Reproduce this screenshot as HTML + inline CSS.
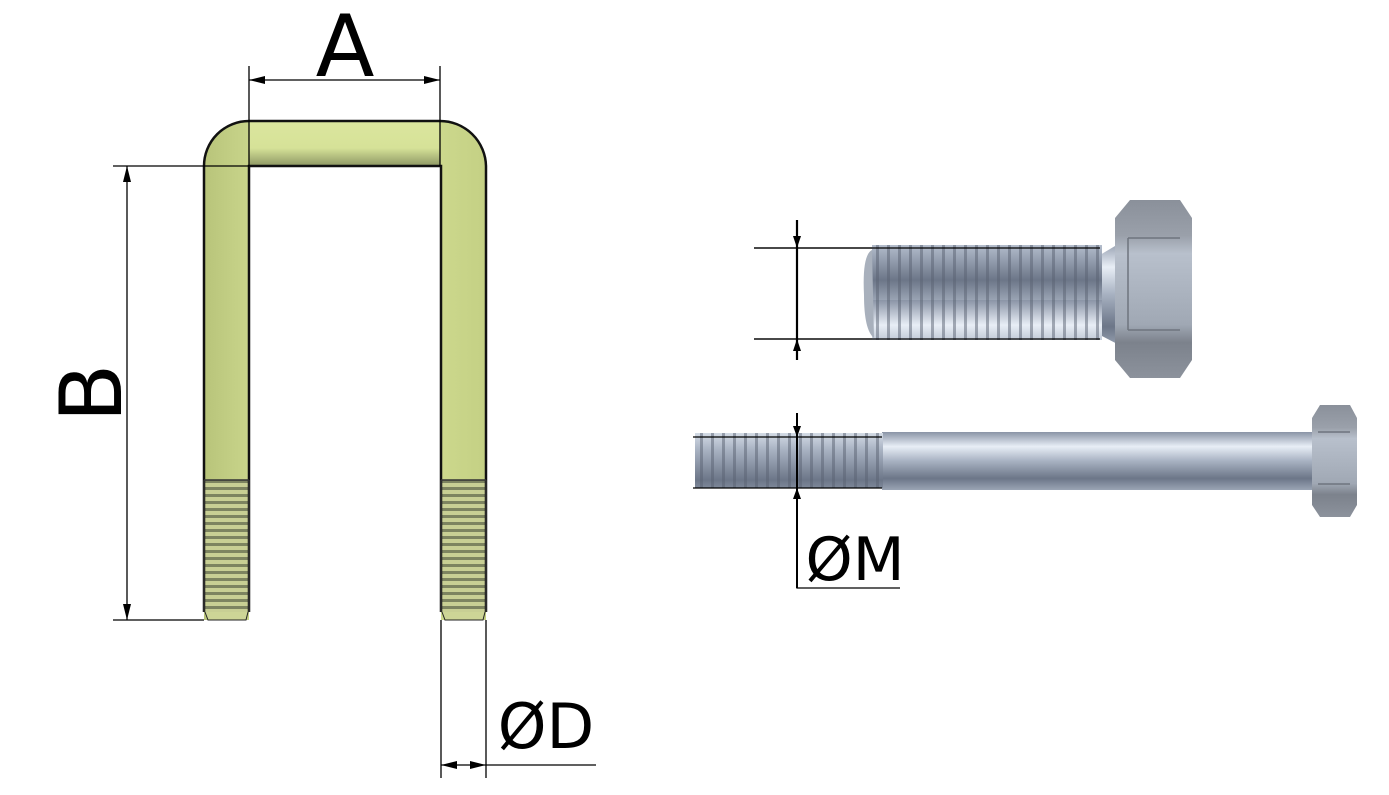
<!DOCTYPE html>
<html><head><style>html,body{margin:0;padding:0;background:#fff;}svg{display:block}</style></head>
<body>
<svg width="1389" height="795" viewBox="0 0 1389 795" xmlns="http://www.w3.org/2000/svg">
<defs>
<linearGradient id="ubv" x1="0" x2="1" y1="0" y2="0">
<stop offset="0" stop-color="#b8c47a"/><stop offset="0.4" stop-color="#e2eea4"/><stop offset="1" stop-color="#c4d084"/></linearGradient>
<linearGradient id="ubh" x1="0" x2="0" y1="0" y2="1">
<stop offset="0" stop-color="#dbe69e"/><stop offset="0.6" stop-color="#d6e298"/><stop offset="1" stop-color="#8e9864"/></linearGradient>
<pattern id="thrU" width="10" height="7" patternUnits="userSpaceOnUse">
<rect width="10" height="7" fill="#c8cf94"/><rect y="4" width="10" height="3" fill="#7d8460"/></pattern>
<linearGradient id="steel" x1="0" x2="0" y1="0" y2="1">
<stop offset="0" stop-color="#8a94a6"/><stop offset="0.25" stop-color="#e8eef6"/><stop offset="0.5" stop-color="#a8b2c2"/><stop offset="0.8" stop-color="#6c7688"/><stop offset="1" stop-color="#9aa4b4"/></linearGradient>
<pattern id="thrB" width="11" height="100" patternUnits="userSpaceOnUse">
<rect width="11" height="100" fill="url(#steel)"/><rect x="7" width="3" height="100" fill="#5a6272" opacity="0.5"/></pattern>
<linearGradient id="head" x1="0" x2="0" y1="0" y2="1">
<stop offset="0" stop-color="#8a909a"/><stop offset="0.2" stop-color="#9aa0aa"/><stop offset="0.3" stop-color="#b8c0cc"/><stop offset="0.7" stop-color="#a0a8b4"/><stop offset="0.8" stop-color="#7c828c"/><stop offset="1" stop-color="#8c929c"/></linearGradient>
</defs>

<!-- U-bolt -->
<path d="M204,620 L204,166 A45,45 0 0 1 249,121 L440,121 A46,46 0 0 1 486,166 L486,620 L441,620 L441,166 L249,166 L249,620 Z" fill="url(#ubv)"/>
<rect x="249" y="121" width="191" height="45" fill="url(#ubh)"/>
<rect x="205" y="480" width="43" height="132" fill="url(#thrU)"/>
<rect x="442" y="480" width="43" height="132" fill="url(#thrU)"/>
<path d="M205,612 L208,620 L246,620 L248,612" fill="#cdd596" stroke="#222" stroke-width="1"/>
<path d="M442,612 L445,620 L483,620 L485,612" fill="#cdd596" stroke="#222" stroke-width="1"/>
<path d="M204,612 L204,166 A45,45 0 0 1 249,121 L440,121 A46,46 0 0 1 486,166 L486,612 M441,612 L441,166 L249,166 L249,612" fill="none" stroke="#111" stroke-width="2.5"/>
<path d="M204,480 H249 M441,480 H486 M204,480 V612 M249,480 V612 M441,480 V612 M486,480 V612" stroke="#333" stroke-width="1.5" fill="none"/>

<!-- Dimension A -->
<g stroke="#000" stroke-width="1.3" fill="none">
<path d="M249,66 V166 M440,66 V166 M249,80 H440"/>
<path d="M113,166 H249 M113,620 H204 M127,166 V620"/>
<path d="M441,620 V778 M486,620 V778 M441,765 H596"/>
<path d="M754,248 H880 M754,339 H880"/>
<path d="M797,413 V588 H900"/>
</g>
<g fill="#000">
<path d="M249,80 L265,76 L265,84 Z M440,80 L424,76 L424,84 Z"/>
<path d="M127,166 L123,182 L131,182 Z M127,620 L123,604 L131,604 Z"/>
<path d="M441,765 L457,761 L457,769 Z M486,765 L470,761 L470,769 Z"/>
</g>
<text x="345" y="76" font-family="DejaVu Sans, sans-serif" font-size="86" text-anchor="middle">A</text>
<text transform="translate(121,393) rotate(-90)" font-family="DejaVu Sans, sans-serif" font-size="86" text-anchor="middle">B</text>
<text x="546" y="748" font-family="DejaVu Sans, sans-serif" font-size="62" text-anchor="middle">ØD</text>
<text x="855" y="580" font-family="DejaVu Sans, sans-serif" font-size="60" text-anchor="middle">ØM</text>

<!-- Bolt 1 -->
<path d="M1100,255 L1125,240 L1125,348 L1100,335 Z" fill="url(#steel)"/>
<rect x="872" y="245" width="230" height="95" fill="url(#thrB)"/>
<path d="M872,250 Q862,255 864,295 Q864,330 874,338 Z" fill="#a8b0bc"/>
<path d="M1115,218 L1130,200 L1180,200 L1192,218 L1192,360 L1180,378 L1130,378 L1115,360 Z" fill="url(#head)"/>
<path d="M1128,238 H1180 M1128,330 H1180 M1128,238 V330" stroke="#6e747e" stroke-width="1.5" fill="none"/>
<g stroke="#000" stroke-width="2.2"><path d="M797,220 V360"/></g>
<path d="M754,248 H1100 M754,339 H1100" stroke="#000" stroke-width="1.2"/>
<path d="M797,248 L793,236 L801,236 Z M797,339 L793,351 L801,351 Z" fill="#000"/>

<!-- Bolt 2 -->
<rect x="882" y="432" width="432" height="58" fill="url(#steel)"/>
<rect x="695" y="433" width="188" height="55" fill="url(#thrB)"/>
<path d="M1312,418 L1320,405 L1350,405 L1357,418 L1357,505 L1350,517 L1320,517 L1312,505 Z" fill="url(#head)"/>
<path d="M1318,432 H1350 M1318,484 H1350" stroke="#6e747e" stroke-width="1.5"/>
<path d="M693,437 H882 M693,488 H882" stroke="#000" stroke-width="1.2"/>
<path d="M797,413 V588" stroke="#000" stroke-width="2"/>
<path d="M797,437 L793,426 L801,426 Z M797,488 L793,499 L801,499 Z" fill="#000"/>
</svg>
</body></html>
